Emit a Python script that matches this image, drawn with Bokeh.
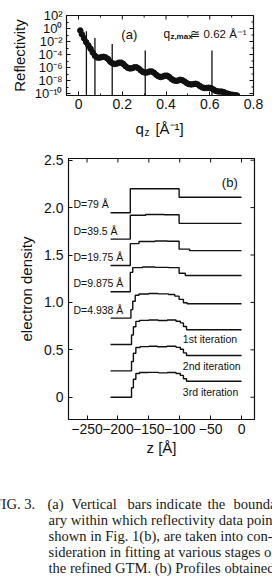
import math
from bokeh.plotting import figure
from bokeh.layouts import column
from bokeh.models import (Range1d, FixedTicker, Label, CustomJSTickFormatter, ColumnDataSource)
from bokeh.core.properties import value
from bokeh.embed import file_html
from bokeh.resources import INLINE

# ---------------- Panel (a): reflectivity ----------------
q_vals = [0.008, 0.015, 0.025, 0.035, 0.045, 0.055, 0.065, 0.075, 0.085, 0.095,
          0.105, 0.115, 0.125, 0.135, 0.145, 0.155, 0.165, 0.175, 0.185, 0.195,
          0.205, 0.215, 0.225, 0.235, 0.245, 0.255, 0.265, 0.275, 0.285, 0.295,
          0.305, 0.315, 0.325, 0.335, 0.345, 0.355, 0.365, 0.375, 0.385, 0.395,
          0.405, 0.415, 0.425, 0.435, 0.445, 0.455, 0.465, 0.475, 0.485, 0.495,
          0.505, 0.515, 0.525, 0.535, 0.545, 0.555, 0.565, 0.575, 0.585, 0.595,
          0.605, 0.615, 0.625, 0.635, 0.645, 0.655, 0.665, 0.675, 0.685, 0.695,
          0.705, 0.715, 0.725]
refl_vals = [5.0e-1, 1.3e-1, 3.2e-2, 7.9e-3, 2.5e-3, 7.9e-4, 2.0e-4, 6.3e-5, 3.5e-5, 3.2e-5,
             4.0e-5, 4.5e-5, 3.5e-5, 2.0e-5, 7.9e-6, 4.5e-6, 3.5e-6, 4.0e-6, 5.6e-6, 5.6e-6,
             3.5e-6, 1.6e-6, 8.9e-7, 7.1e-7, 7.9e-7, 1.1e-6, 1.1e-6, 7.1e-7, 3.5e-7, 2.0e-7,
             1.6e-7, 1.8e-7, 2.5e-7, 2.5e-7, 1.6e-7, 7.9e-8, 4.5e-8, 3.5e-8, 4.0e-8, 5.6e-8,
             5.6e-8, 3.5e-8, 1.8e-8, 1.1e-8, 8.9e-9, 1.0e-8, 1.3e-8, 1.1e-8, 7.1e-9, 4.0e-9,
             2.8e-9, 2.5e-9, 2.8e-9, 3.2e-9, 2.5e-9, 1.4e-9, 8.9e-10, 7.1e-10, 7.1e-10, 7.9e-10,
             7.1e-10, 4.5e-10, 2.8e-10, 2.2e-10, 2.0e-10, 2.0e-10, 1.6e-10, 1.1e-10, 8.9e-11, 7.1e-11,
             6.3e-11, 5.6e-11, 5.0e-11]
bar_q = [0.036, 0.075, 0.154, 0.305, 0.61]
bar_top = [3.8e-1, 3.6e-2, 4.3e-3, 4.0e-4, 4.0e-4]
a_xticks = [0, 0.2, 0.4, 0.6, 0.8]
a_xminor = [0.1, 0.3, 0.5, 0.7]
a_yticks = [1e2, 1e0, 1e-2, 1e-4, 1e-6, 1e-8, 1e-10]
a_yminor = [1e1, 1e-1, 1e-3, 1e-5, 1e-7, 1e-9]
a_xmin, a_xmax = -0.055, 0.80
a_ymin, a_ymax = 5.0e-11, 1e2

# ---------------- Panel (b): electron density profiles ----------------
profile_labels = ["D=79 \u00c5", "D=39.5 \u00c5", "D=19.75 \u00c5", "D=9.875 \u00c5",
                  "D=4.938 \u00c5", "1st iteration", "2nd iteration", "3rd iteration"]
profile_offsets = [1.946, 1.668, 1.390, 1.112, 0.834, 0.556, 0.278, 0.0]
z_d79 = [-212, -180, -101, 0]
rho_d79 = [0.0, 0.253, 0.163, 0.163]
z_d395 = [-212, -180, -155, -125, -101, 0]
rho_d395 = [0.0, 0.252, 0.260, 0.256, 0.166, 0.166]
z_d1975 = [-212, -180, -166, -140, -120, -101, -84, 0]
rho_d1975 = [0.0, 0.230, 0.252, 0.258, 0.255, 0.172, 0.156, 0.156]
z_d9875 = [-212, -180, -176, -160, -140, -118, -101, -91, 0]
rho_d9875 = [0.0, 0.205, 0.255, 0.262, 0.258, 0.255, 0.196, 0.172, 0.172]
z_d4938 = [-212, -179, -176, -172, -166, -150, -135, -118, -108, -101, -94, -88, 0]
rho_d4938 = [0.0, 0.090, 0.178, 0.242, 0.254, 0.260, 0.256, 0.250, 0.232, 0.198, 0.162, 0.152, 0.152]
z_it1 = [-212, -178, -175, -171, -165, -150, -135, -120, -106, -99, -94, -89, 0]
rho_it1 = [0.0, 0.100, 0.188, 0.244, 0.255, 0.258, 0.254, 0.258, 0.245, 0.228, 0.190, 0.156, 0.156]
z_it2 = [-212, -178, -175, -171, -164, -150, -136, -121, -106, -99, -94, -89, 0]
rho_it2 = [0.0, 0.098, 0.186, 0.246, 0.256, 0.260, 0.255, 0.259, 0.248, 0.228, 0.190, 0.162, 0.162]
z_it3 = [-212, -178, -175, -171, -165, -151, -134, -120, -106, -99, -94, -89, 0]
rho_it3 = [0.0, 0.100, 0.190, 0.250, 0.260, 0.262, 0.257, 0.260, 0.250, 0.230, 0.195, 0.168, 0.168]
profiles_z = [z_d79, z_d395, z_d1975, z_d9875, z_d4938, z_it1, z_it2, z_it3]
profiles_rho = [rho_d79, rho_d395, rho_d1975, rho_d9875, rho_d4938, rho_it1, rho_it2, rho_it3]
b_xticks = [-250, -200, -150, -100, -50, 0]
b_yticks = [0, 0.5, 1.0, 1.5, 2.0, 2.5]
b_xmin, b_xmax = -280, 21
b_ymin, b_ymax = -0.235, 2.518

# ---------------- Caption ----------------
caption_runs = [
    ("FIG. 3.", -7, 0), ("(a)", 47, 0), ("Vertical", 71, 0), ("bars", 127, 0),
    ("indicate", 155, 0), ("the", 207, 0), ("boundary", 233, 0),
    ("ary within which reflectivity data points,", 48, 1),
    ("shown in Fig. 1(b), are taken into con-", 48, 2),
    ("sideration in fitting at various stages of", 48, 3),
    ("the refined GTM. (b) Profiles obtained", 48, 4),
]

SANS = "Liberation Sans"
SERIF = "Liberation Serif"
INK = "#111111"


def style_axis(ax, size="14px"):
    ax.major_tick_in = 4
    ax.major_tick_out = 0
    ax.minor_tick_in = 2
    ax.minor_tick_out = 0
    ax.axis_line_color = INK
    ax.major_tick_line_color = INK
    ax.minor_tick_line_color = INK
    ax.major_label_text_font = SANS
    ax.major_label_text_color = INK
    ax.major_label_text_font_size = size
    ax.axis_label_text_font = SANS
    ax.axis_label_text_font_style = "normal"
    ax.axis_label_text_color = INK
    ax.axis_label_text_font_size = "15px"


def mirror_ticks(p, xt, yt, x_top, y_right, size):
    # tick marks on the top and right edges of the frame (outer half is clipped)
    p.scatter(x=xt, y=[y_right] * len(xt), marker="dash", angle=math.pi / 2,
              size=size, line_color=INK, line_width=1)
    p.scatter(x=[x_top] * len(yt), y=yt, marker="dash", size=size,
              line_color=INK, line_width=1)


def bare_figure(h, xr, yr, left=0, right=0):
    f = figure(width=272, height=h, x_range=xr, y_range=yr,
               toolbar_location=None, output_backend="svg",
               min_border=0, min_border_left=left, min_border_right=right,
               min_border_top=0, min_border_bottom=0,
               x_axis_location=None, y_axis_location=None)
    f.grid.visible = False
    f.outline_line_color = None
    f.frame_align = False
    return f


# ---------- figure (a) ----------
pa = figure(width=272, height=118, x_range=Range1d(a_xmin, a_xmax),
            y_range=Range1d(a_ymin, a_ymax), y_axis_type="log",
            toolbar_location=None, output_backend="svg",
            min_border_left=66, min_border_right=19, min_border_top=15, min_border_bottom=23)
pa.frame_align = False
pa.grid.visible = False
pa.outline_line_color = INK
pa.outline_line_width = 1.2

xt_a = FixedTicker(ticks=a_xticks, minor_ticks=a_xminor)
yt_a = FixedTicker(ticks=a_yticks, minor_ticks=a_yminor)
log_fmt = CustomJSTickFormatter(code="""
const sup = {'-':'\u207b','0':'\u2070','1':'\u00b9','2':'\u00b2','3':'\u00b3','4':'\u2074',
             '5':'\u2075','6':'\u2076','7':'\u2077','8':'\u2078','9':'\u2079'};
const e = Math.round(Math.log10(tick));
return '10' + String(e).split('').map(c => sup[c]).join('');
""")
pa.xaxis.ticker = xt_a
pa.yaxis.ticker = yt_a
pa.yaxis.formatter = log_fmt
for ax in pa.xaxis:
    style_axis(ax)
    ax.major_label_standoff = 3
for ax in pa.yaxis:
    style_axis(ax, size="13px")
    ax.axis_label = "Reflectivity"
    ax.major_label_standoff = 4
    ax.axis_label_standoff = 4

src_a = ColumnDataSource(dict(q=q_vals, r=refl_vals))
pa.segment(x0=bar_q, y0=[a_ymin] * len(bar_q), x1=bar_q, y1=bar_top,
           line_color=INK, line_width=1.3)
pa.line("q", "r", source=src_a, line_color=INK, line_width=4.5)
pa.scatter("q", "r", source=src_a, size=5.5, marker="circle",
           fill_color=INK, line_color=INK)
mirror_ticks(pa, a_xticks, a_yticks, a_xmax, a_ymax, 8)
mirror_ticks(pa, a_xminor, a_yminor, a_xmax, a_ymax, 4)

pa.add_layout(Label(x=0.232, y=1.2e-1, text="(a)", text_font=SANS, text_font_size="13px",
                    text_align="center", text_baseline="middle", text_color=INK))
qx, qy = 0.388, 1.7e-1
pa.add_layout(Label(x=qx, y=qy, text="q", text_font=SANS, text_font_size="12px",
                    text_baseline="middle", text_color=INK))
pa.add_layout(Label(x=qx, y=qy, x_offset=7, y_offset=-3, text="z,max", text_font=SANS,
                    text_font_size="8px", text_font_style="bold", text_baseline="middle",
                    text_color=INK))
pa.add_layout(Label(x=qx, y=qy, x_offset=27, text="\u2245 0.62 \u00c5\u207b\u00b9",
                    text_font=SANS, text_font_size="11.5px", text_baseline="middle",
                    text_color=INK))

# ---------- x-axis title strip for panel (a) ----------
pq = bare_figure(22, pa.x_range, Range1d(22, 0), left=66, right=19)
lx = 0.26
pq.text(x=[lx], y=[10], text=["q"], text_font=value(SANS), text_font_size="15px",
        text_baseline="middle", text_color=INK)
pq.text(x=[lx], y=[10], x_offset=9, y_offset=4, text=["z"], text_font=value(SANS),
        text_font_size="10px", text_baseline="middle", text_color=INK)
pq.text(x=[lx], y=[10], x_offset=20, text=["[\u00c5\u207b\u00b9]"], text_font=value(SANS),
        text_font_size="15px", text_baseline="middle", text_color=INK)

# ---------- figure (b) ----------
pb = figure(width=272, height=320, x_range=Range1d(b_xmin, b_xmax),
            y_range=Range1d(b_ymin, b_ymax),
            toolbar_location=None, output_backend="svg",
            min_border_left=68, min_border_right=18, min_border_top=18, min_border_bottom=41)
pb.frame_align = False
pb.grid.visible = False
pb.outline_line_color = INK
pb.outline_line_width = 1.2
xt_b = FixedTicker(ticks=b_xticks, minor_ticks=[])
yt_b = FixedTicker(ticks=b_yticks, minor_ticks=[])
pb.xaxis.ticker = xt_b
pb.yaxis.ticker = yt_b
pb.yaxis.formatter = CustomJSTickFormatter(code="return tick == 0 ? '0' : tick.toFixed(1);")
for ax in pb.xaxis:
    style_axis(ax)
    ax.axis_label = "z [\u00c5]"
    ax.major_label_standoff = 4
    ax.axis_label_standoff = 2
for ax in pb.yaxis:
    style_axis(ax)
    ax.axis_label = "electron density"
    ax.major_label_standoff = 5
    ax.axis_label_standoff = 6
mirror_ticks(pb, b_xticks, b_yticks, b_xmax, b_ymax, 8)

for zs, rs, off in zip(profiles_z, profiles_rho, profile_offsets):
    pb.step(x=zs, y=[r + off for r in rs], mode="after", line_color=INK, line_width=1.4)

d_labels = profile_labels[:5]
d_offs = profile_offsets[:5]
pb.text(x=[-272] * 5, y=[o + 0.025 for o in d_offs], text=d_labels,
        text_font=value(SANS), text_font_size="10.5px", text_baseline="bottom",
        text_align="left", text_color=INK)
it_labels = profile_labels[5:]
it_offs = profile_offsets[5:]
pb.text(x=[-95] * 3, y=[o + 0.055 for o in it_offs], text=it_labels,
        text_font=value(SANS), text_font_size="10.5px", text_baseline="middle",
        text_align="left", text_color=INK)
pb.add_layout(Label(x=-19, y=2.267, text="(b)", text_font=SANS, text_font_size="13px",
                    text_align="center", text_baseline="middle", text_color=INK))

# ---------- caption ----------
pc = bare_figure(118, Range1d(0, 272), Range1d(118, 0))
line_y0, line_gap = 43, 16
pc.text(x=[r[1] for r in caption_runs],
        y=[line_y0 + line_gap * r[2] for r in caption_runs],
        text=[r[0] for r in caption_runs],
        text_font=value(SERIF), text_font_size="14.6px", text_baseline="middle",
        text_align="left", text_color="#1a1a1a")

layout = column(pa, pq, pb, pc)
with open("out.html", "w", encoding="utf-8") as f:
    f.write(file_html(layout, INLINE))
